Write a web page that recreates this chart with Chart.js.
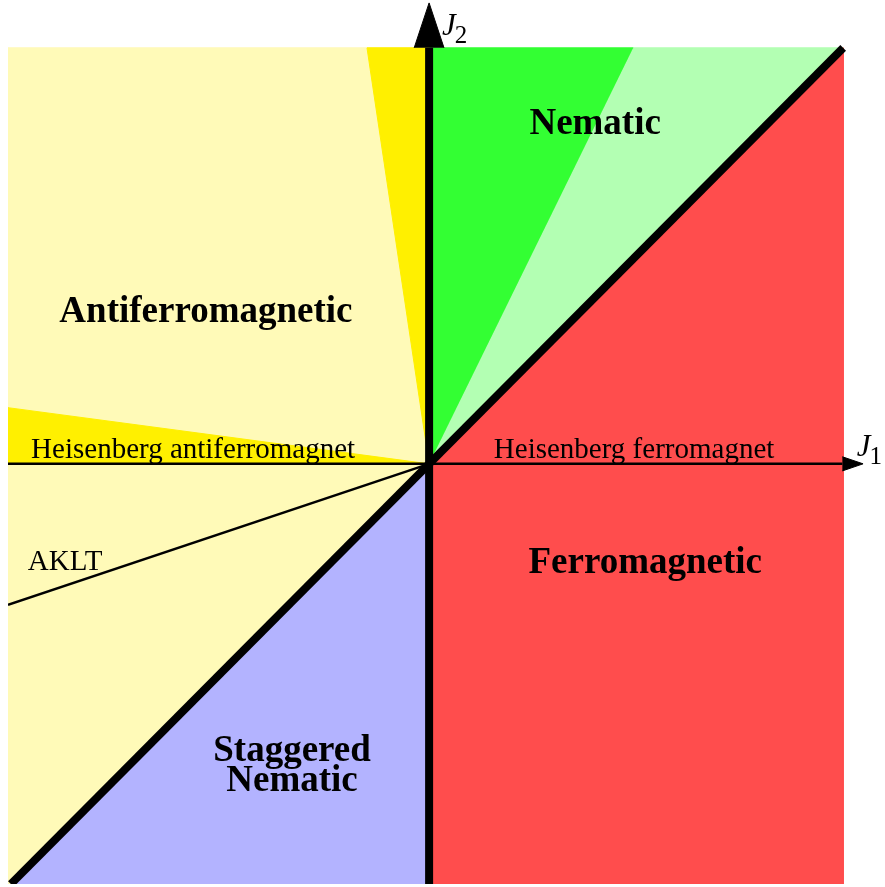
<!DOCTYPE html>
<html>
<head>
<meta charset="utf-8">
<title>J1-J2 phase diagram</title>
<script src="https://cdn.jsdelivr.net/npm/chart.js@4.4.1/dist/chart.umd.min.js"></script>
<style>
    html, body { margin: 0; padding: 0; background: #fff; }
    #wrap { width: 885px; height: 887px; position: relative; }
</style>
</head>
<body>
<div id="wrap"><canvas id="phaseChart"></canvas></div>
<script>
/* ================= DATA ================= */
// axis extents of the square (J1 horizontal, J2 vertical)
const j1Range = [-1.017, 1];
const j2Range = [-1.01, 1];
// view extends a bit past the square so the arrow heads fit
const viewX = [-1.017, 1.101];
const viewY = [-1.01, 1.115];

// phase regions, vertices in (J1, J2)
const afmRegion = [[0, 0], [0, 1], [-1.017, 1], [-1.017, -1.01], [-1.01, -1.01]];
const afmWedgeTop = [[0, 0], [-0.15, 1], [0, 1]];
const afmWedgeLeft = [[0, 0], [-1.017, 0.135], [-1.017, 0]];
const nematicRegion = [[0, 0], [0, 1], [0.493, 1]];
const nematicLight = [[0, 0], [0.493, 1], [1, 1]];
const ferroRegion = [[0, 0], [1, 1], [1, -1.01], [0, -1.01]];
const staggeredRegion = [[0, 0], [0, -1.01], [-1.01, -1.01]];

// lines
const j2Axis = [[0, -1.01], [0, 1]];
const diagonal = [[-1.01, -1.01], [1, 1]];
const j1Axis = [[-1.017, 0], [0.998, 0]];
const akltLine = [[0, 0], [-1.017, -0.339]];

// arrow heads
const j2Arrow = [[-0.036, 1], [0, 1.108], [0.036, 1]];
const j1Arrow = [[0.998, 0.017], [1.048, 0], [0.998, -0.017]];

// text labels
const phaseLabels = [
    { text: "Nematic", x: 0.401, y: 0.793, bold: true },
    { text: "Antiferromagnetic", x: -0.539, y: 0.34, bold: true },
    { text: "Ferromagnetic", x: 0.522, y: -0.262, bold: true },
    { text: "Staggered", x: -0.331, y: -0.714, bold: true },
    { text: "Nematic", x: -0.331, y: -0.786, bold: true },
    { text: "Heisenberg antiferromagnet", x: -0.57, y: 0.0144, bold: false },
    { text: "Heisenberg ferromagnet", x: 0.495, y: 0.0144, bold: false },
    { text: "AKLT", x: -0.879, y: -0.255, bold: false }
];
const axisLabels = [
    { name: "J", sub: "2", x: 0.031, y: 1.03 },
    { name: "J", sub: "1", x: 1.033, y: 0.02 }
];

/* ================= HELPERS ================= */
const SERIF = '"Liberation Serif", "DejaVu Serif", serif';
const pts = arr => arr.map(p => ({ x: p[0], y: p[1] }));

function region(data, color, order) {
    return {
        data: pts(data),
        showLine: true,
        fill: "shape",
        backgroundColor: color,
        borderColor: color,
        borderWidth: 1,
        pointRadius: 0,
        order: order
    };
}

function line(data, width) {
    return {
        data: pts(data),
        showLine: true,
        fill: false,
        borderColor: "#000",
        borderWidth: width,
        borderCapStyle: "butt",
        pointRadius: 0,
        order: 0
    };
}

/* ================= LABEL PLUGIN ================= */
const labelPlugin = {
    id: "phaseLabels",
    afterDatasetsDraw(chart) {
        const { ctx, scales } = chart;
        ctx.save();
        ctx.fillStyle = "#000";
        ctx.textBaseline = "alphabetic";
        phaseLabels.forEach(l => {
            ctx.font = l.bold ? `bold 37px ${SERIF}` : `29px ${SERIF}`;
            ctx.textAlign = "center";
            ctx.fillText(l.text, scales.x.getPixelForValue(l.x), scales.y.getPixelForValue(l.y));
        });
        axisLabels.forEach(l => {
            const px = scales.x.getPixelForValue(l.x);
            const py = scales.y.getPixelForValue(l.y);
            ctx.textAlign = "left";
            ctx.font = `italic 31px ${SERIF}`;
            ctx.fillText(l.name, px, py);
            const w = ctx.measureText(l.name).width;
            ctx.font = `25px ${SERIF}`;
            ctx.fillText(l.sub, px + w - 1, py + 8);
        });
        ctx.restore();
    }
};

/* ================= CHART ================= */
function buildChart() {
    const ctx = document.getElementById("phaseChart").getContext("2d");
    return new Chart(ctx, {
        type: "scatter",
        data: {
            datasets: [
                line(j2Axis, 8),
                line(diagonal, 8),
                line(j1Axis, 2.5),
                line(akltLine, 2.5),
                region(j2Arrow, "#000", 0),
                region(j1Arrow, "#000", 0),
                region(afmWedgeTop, "#fff000", 1),
                region(afmWedgeLeft, "#fff000", 1),
                region(afmRegion, "#fffab8", 2),
                region(nematicRegion, "#33ff33", 2),
                region(nematicLight, "#b3ffb3", 2),
                region(ferroRegion, "#ff4d4d", 2),
                region(staggeredRegion, "#b3b3ff", 2)
            ]
        },
        options: {
            responsive: true,
            maintainAspectRatio: false,
            animation: false,
            layout: { padding: { left: 8, right: 0, top: 0, bottom: 3 } },
            scales: {
                x: { type: "linear", min: viewX[0], max: viewX[1], display: false },
                y: { type: "linear", min: viewY[0], max: viewY[1], display: false }
            },
            plugins: {
                legend: { display: false },
                tooltip: { enabled: false }
            }
        },
        plugins: [labelPlugin]
    });
}

document.addEventListener("DOMContentLoaded", buildChart);
</script>
</body>
</html>
